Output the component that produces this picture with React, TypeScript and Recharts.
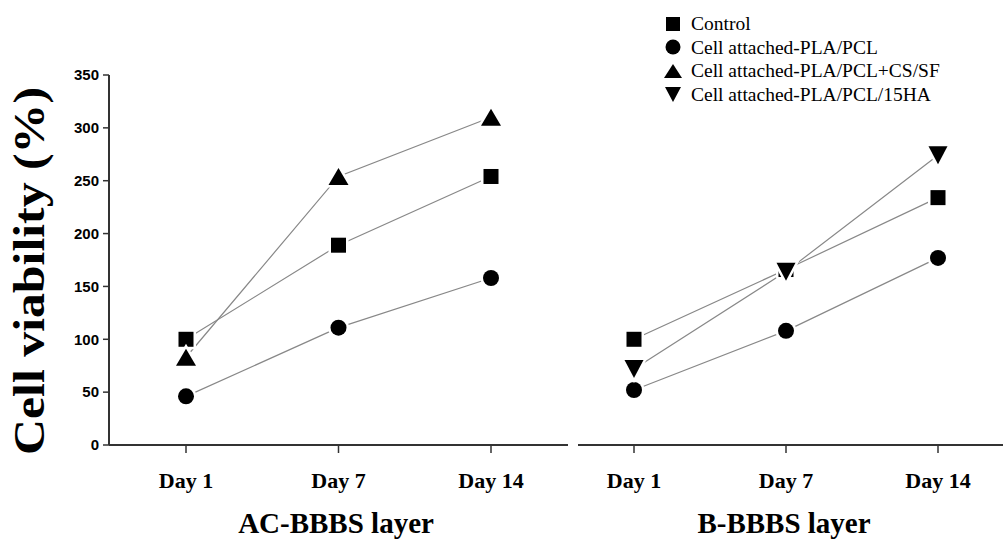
import React from 'react';
import { LineChart, Line, XAxis, YAxis, Legend } from 'recharts';

// ---------- data ----------
const days = ['Day 1', 'Day 7', 'Day 14'];
const yTicks = [0, 50, 100, 150, 200, 250, 300, 350];

// AC-BBBS layer
const acControl = [100, 189, 254];
const acPlaPcl = [46, 111, 158];
const acPlaPclCsSf = [83, 254, 310];

// B-BBBS layer
const bControl = [100, 166, 234];
const bPlaPcl = [52, 108, 177];
const bPlaPcl15HA = [72, 164, 274];

const seriesNames = [
  'Control',
  'Cell attached-PLA/PCL',
  'Cell attached-PLA/PCL+CS/SF',
  'Cell attached-PLA/PCL/15HA',
];
const seriesShapes = ['square', 'circle', 'triangle', 'triangleDown'];

const acData = days.map((d, i) => ({
  day: d,
  control: acControl[i],
  plapcl: acPlaPcl[i],
  cssf: acPlaPclCsSf[i],
}));
const bData = days.map((d, i) => ({
  day: d,
  control: bControl[i],
  plapcl: bPlaPcl[i],
  ha: bPlaPcl15HA[i],
}));

// ---------- styling ----------
const SERIF = '"Liberation Serif", "Times New Roman", Times, serif';
const SANS = '"Liberation Sans", Arial, Helvetica, sans-serif';
const AXIS = '#333';
const LINE = '#888';

function Marker({ cx, cy, shape, halo = 5 }: any) {
  if (cx == null || cy == null) return null;
  const common = {
    fill: '#000',
    stroke: '#fff',
    strokeWidth: halo,
    paintOrder: 'stroke',
    strokeLinejoin: 'round' as const,
  };
  if (shape === 'square') {
    const h = 7.5;
    return <rect x={cx - h} y={cy - h} width={2 * h} height={2 * h} {...common} />;
  }
  if (shape === 'circle') {
    return <circle cx={cx} cy={cy} r={8} {...common} />;
  }
  if (shape === 'triangle') {
    const w = 10;
    const h = 8.5;
    return (
      <polygon
        points={`${cx - w},${cy + h} ${cx + w},${cy + h} ${cx},${cy - h}`}
        {...common}
        strokeLinejoin="miter"
      />
    );
  }
  const w = 9.5;
  const h = 9;
  return (
    <polygon
      points={`${cx - w},${cy - h} ${cx + w},${cy - h} ${cx},${cy + h}`}
      {...common}
      strokeLinejoin="miter"
    />
  );
}

const makeDot = (shape: string) => (p: any) =>
  <Marker key={`${shape}-${p.index}`} cx={p.cx} cy={p.cy} shape={shape} />;

function LegendMarker({ shape }: any) {
  const cx = 10;
  const cy = 10;
  if (shape === 'square') return <rect x={3} y={3} width={14} height={14} fill="#000" />;
  if (shape === 'circle') return <circle cx={cx} cy={cy} r={7.5} fill="#000" />;
  if (shape === 'triangle') return <polygon points="1,17 19,17 10,3" fill="#000" />;
  return <polygon points="2,3 18,3 10,18" fill="#000" />;
}

const LegendContent = () => (
  <div style={{ fontFamily: SERIF, fontSize: 19.5, color: '#000', lineHeight: 1 }}>
    {seriesNames.map((n, i) => (
      <div key={n} style={{ display: 'flex', alignItems: 'center', height: 23.5 }}>
        <svg width={20} height={20} style={{ display: 'block' }}>
          <LegendMarker shape={seriesShapes[i]} />
        </svg>
        <span style={{ marginLeft: 8, whiteSpace: 'nowrap' }}>{n}</span>
      </div>
    ))}
  </div>
);

const xTick = { fontFamily: SERIF, fontWeight: 'bold', fontSize: 22, fill: '#000' };
const yTick = { fontFamily: SANS, fontWeight: 'bold', fontSize: 15, fill: '#000' };

export default function App() {
  return (
    <div
      style={{
        position: 'absolute',
        left: 0,
        top: 0,
        width: 1003,
        height: 540,
        background: '#fff',
        overflow: 'hidden',
      }}
    >
      <div style={{ position: 'absolute', left: 0, top: 0 }}>
        <LineChart
          width={570}
          height={540}
          data={acData}
          margin={{ top: 75, right: 2, bottom: 35, left: 0 }}
        >
          <XAxis
            dataKey="day"
            type="category"
            padding={{ left: 77, right: 77 }}
            height={60}
            stroke={AXIS}
            strokeWidth={2}
            tickSize={8}
            tickMargin={19}
            tick={xTick}
            tickLine={{ stroke: AXIS, strokeWidth: 1.5 }}
            label={{
              content: () => (
                <text
                  x={336}
                  y={533}
                  textAnchor="middle"
                  fontFamily={SERIF}
                  fontWeight="bold"
                  fontSize={29}
                  fill="#000"
                >
                  AC-BBBS layer
                </text>
              ),
            }}
          />
          <YAxis
            width={109}
            domain={[0, 350]}
            ticks={yTicks}
            interval={0}
            stroke={AXIS}
            strokeWidth={2}
            tickSize={6}
            tickMargin={4}
            tick={yTick}
            tickLine={{ stroke: AXIS, strokeWidth: 1.5 }}
            label={{
              content: () => (
                <text
                  x={44}
                  y={271}
                  transform="rotate(-90 44 271)"
                  textAnchor="middle"
                  fontFamily={SERIF}
                  fontWeight="bold"
                  fontSize={45}
                  textLength={368}
                  lengthAdjust="spacingAndGlyphs"
                  fill="#000"
                >
                  Cell viability (%)
                </text>
              ),
            }}
          />
          <Line dataKey="plapcl" stroke={LINE} strokeWidth={1.2} dot={makeDot('circle')} activeDot={false} isAnimationActive={false} />
          <Line dataKey="control" stroke={LINE} strokeWidth={1.2} dot={makeDot('square')} activeDot={false} isAnimationActive={false} />
          <Line dataKey="cssf" stroke={LINE} strokeWidth={1.2} dot={makeDot('triangle')} activeDot={false} isAnimationActive={false} />
        </LineChart>
      </div>
      <div style={{ position: 'absolute', left: 578, top: 0 }}>
        <LineChart
          width={425}
          height={540}
          data={bData}
          margin={{ top: 75, right: 0, bottom: 35, left: 0 }}
        >
          <XAxis
            dataKey="day"
            type="category"
            padding={{ left: 56, right: 65 }}
            height={60}
            stroke={AXIS}
            strokeWidth={2}
            tickSize={8}
            tickMargin={19}
            tick={xTick}
            tickLine={{ stroke: AXIS, strokeWidth: 1.5 }}
            label={{
              content: () => (
                <text
                  x={206}
                  y={533}
                  textAnchor="middle"
                  fontFamily={SERIF}
                  fontWeight="bold"
                  fontSize={29}
                  fill="#000"
                >
                  B-BBBS layer
                </text>
              ),
            }}
          />
          <YAxis hide width={0} domain={[0, 350]} ticks={yTicks} />
          <Legend
            layout="vertical"
            align="center"
            verticalAlign="middle"
            content={() => <LegendContent />}
            wrapperStyle={{ left: 85, top: 12, width: 340 }}
          />
          <Line dataKey="plapcl" stroke={LINE} strokeWidth={1.2} dot={makeDot('circle')} activeDot={false} isAnimationActive={false} />
          <Line dataKey="control" stroke={LINE} strokeWidth={1.2} dot={makeDot('square')} activeDot={false} isAnimationActive={false} />
          <Line dataKey="ha" stroke={LINE} strokeWidth={1.2} dot={makeDot('triangleDown')} activeDot={false} isAnimationActive={false} />
        </LineChart>
      </div>
    </div>
  );
}
